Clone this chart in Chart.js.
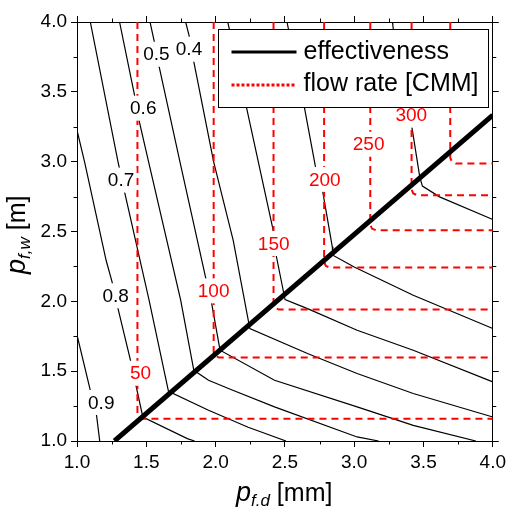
<!DOCTYPE html>
<html><head><meta charset="utf-8">
<script src="https://cdn.jsdelivr.net/npm/chart.js@4/dist/chart.umd.min.js"></script>
<style>html,body{margin:0;padding:0;background:#fff;}canvas{display:block;}</style>
</head><body>
<canvas id="c" width="510" height="512"></canvas>
<script>
// ---------- data ----------
const xTicks = [1.0, 1.5, 2.0, 2.5, 3.0, 3.5, 4.0];
const yTicks = [1.0, 1.5, 2.0, 2.5, 3.0, 3.5, 4.0];
const minorTicks = [1.25, 1.75, 2.25, 2.75, 3.25, 3.75];

// optimum line (thick black)
const diagX = [1.27, 4.0];
const diagY = [1.0, 3.333];

// flow-rate lines [CMM]: vertical part at flowX, horizontal part at flowY
const flowRates = [50, 100, 150, 200, 250, 300, 350];
const flowX = [1.436, 1.986, 2.418, 2.783, 3.116, 3.414, 3.693];
const flowY = [1.160, 1.597, 1.941, 2.242, 2.509, 2.760, 2.987];
const flowLabelX = [1.459, 1.986, 2.419, 2.788, 3.104, 3.412];
const flowLabelY = [1.485, 2.075, 2.414, 2.873, 3.125, 3.333];

// effectiveness contours [x, y]
const eff01 = [[3.276,4.0],[3.283,3.942],[3.414,3.261],[3.473,2.891],[3.492,2.825],[3.616,2.748],[4.0,2.586]];
const eff02 = [[2.515,4.0],[2.640,3.393],[2.723,2.951],[2.771,2.796],[2.842,2.390],[2.846,2.330],[3.000,2.246],[3.426,2.044],[4.0,1.805]];
const eff03 = [[2.088,4.0],[2.222,3.393],[2.413,2.521],[2.437,2.330],[2.501,2.013],[2.663,1.948],[3.021,1.793],[3.426,1.650],[4.0,1.423]];
const eff04 = [[1.784,4.0],[1.808,3.906],[1.843,3.715],[1.986,2.999],[2.127,2.437],[2.247,1.805],[2.663,1.626],[3.021,1.483],[3.426,1.340],[4.0,1.172]];
const eff05 = [[1.527,4.0],[1.558,3.858],[1.593,3.679],[1.748,2.975],[1.927,2.175],[1.972,1.984],[2.032,1.650],[2.425,1.435],[3.021,1.244],[3.426,1.112],[3.878,1.0]];
const eff06 = [[1.307,4.0],[1.415,3.476],[1.450,3.285],[1.522,2.975],[1.748,2.008],[1.843,1.506],[1.949,1.435],[2.106,1.371],[2.425,1.244],[3.021,1.029],[3.176,1.0]];
const eff07 = [[1.096,4.0],[1.296,2.999],[1.343,2.784],[1.520,2.008],[1.660,1.356],[1.949,1.220],[2.235,1.098],[2.508,1.0]];
const eff08 = [[1.0,3.226],[1.057,2.987],[1.210,2.294],[1.253,2.139],[1.296,1.948],[1.386,1.578],[1.475,1.172],[1.796,1.017],[1.848,1.0]];
const eff09 = [[1.0,1.76],[1.093,1.375],[1.141,1.184],[1.164,1.0]];
const effLines = [eff01, eff02, eff03, eff04, eff05, eff06, eff07, eff08, eff09];

const effLabels = ['0.4','0.5','0.6','0.7','0.8','0.9'];
const effLabelX = [1.808, 1.573, 1.478, 1.318, 1.279, 1.175];
const effLabelY = [3.805, 3.769, 3.383, 2.868, 2.040, 1.276];

const legendLabels = ['effectiveness', 'flow rate [CMM]'];

// ---------- chart ----------
const FONT = "'Liberation Sans', Arial, Helvetica, sans-serif";
const RED = '#ff0000';

const datasets = [];
datasets.push({
  label: legendLabels[0],
  data: diagX.map((x, i) => ({x, y: diagY[i]})),
  borderColor: '#000', borderWidth: 5, pointRadius: 0, showLine: true, fill: false
});
const corner = 0.04;
flowX.forEach((xv, i) => {
  const yh = flowY[i];
  datasets.push({
    label: i === 0 ? legendLabels[1] : String(flowRates[i]),
    data: [{x: xv, y: 4.0}, {x: xv, y: yh + corner}, {x: xv + 0.012, y: yh + 0.012},
           {x: xv + corner, y: yh}, {x: 4.0, y: yh}],
    borderColor: RED, borderWidth: 2, borderDash: [7, 5], pointRadius: 0, showLine: true, fill: false
  });
});
effLines.forEach((pts, i) => {
  datasets.push({
    label: 'eff ' + (i + 1) / 10,
    data: pts.map(p => ({x: p[0], y: p[1]})),
    borderColor: '#000', borderWidth: 1.2, pointRadius: 0, showLine: true, fill: false
  });
});

const labelPlugin = {
  id: 'labels',
  afterDatasetsDraw(chart) {
    const {ctx, scales: {x, y}} = chart;
    ctx.save();
    ctx.font = '19px ' + FONT;
    ctx.textAlign = 'center';
    ctx.textBaseline = 'middle';
    const draw = (txt, vx, vy, col) => {
      const px = x.getPixelForValue(vx), py = y.getPixelForValue(vy);
      const w = ctx.measureText(txt).width;
      ctx.fillStyle = '#fff';
      ctx.fillRect(px - w / 2 - 2, py - 12.5, w + 4, 25);
      ctx.fillStyle = col;
      ctx.fillText(txt, px, py + 1);
    };
    effLabels.forEach((t, i) => draw(t, effLabelX[i], effLabelY[i], '#000'));
    flowLabelX.forEach((vx, i) => draw(String(flowRates[i]), vx, flowLabelY[i], RED));
    ctx.restore();
  },
  afterDraw(chart) {
    const {ctx, chartArea: a, scales: {x, y}} = chart;
    ctx.save();
    // minor ticks
    ctx.strokeStyle = '#000'; ctx.lineWidth = 1;
    ctx.beginPath();
    minorTicks.forEach(v => {
      const px = Math.round(x.getPixelForValue(v)) + 0.5;
      ctx.moveTo(px, a.bottom); ctx.lineTo(px, a.bottom + 3.5);
      ctx.moveTo(px, a.top); ctx.lineTo(px, a.top - 3.5);
      const py = Math.round(y.getPixelForValue(v)) + 0.5;
      ctx.moveTo(a.left, py); ctx.lineTo(a.left - 3.5, py);
      ctx.moveTo(a.right, py); ctx.lineTo(a.right + 3.5, py);
    });
    ctx.stroke();

    // legend
    const L = 218.5, T = 29.5, W = 270, H = 78;
    ctx.fillStyle = '#fff'; ctx.fillRect(L, T, W, H);
    ctx.strokeStyle = '#000'; ctx.lineWidth = 1; ctx.strokeRect(L, T, W, H);
    ctx.lineWidth = 3;
    ctx.beginPath(); ctx.moveTo(L + 13, 52); ctx.lineTo(L + 78, 52); ctx.stroke();
    ctx.strokeStyle = RED; ctx.setLineDash([3, 2]);
    ctx.beginPath(); ctx.moveTo(L + 13, 85); ctx.lineTo(L + 78, 85); ctx.stroke();
    ctx.setLineDash([]);
    ctx.fillStyle = '#000'; ctx.font = '25px ' + FONT;
    ctx.textAlign = 'left'; ctx.textBaseline = 'alphabetic';
    ctx.fillText(legendLabels[0], L + 85, 58.5);
    ctx.fillText(legendLabels[1], L + 85, 91);

    // axis titles
    const title = (sub, unit) => {
      ctx.font = 'italic 27px ' + FONT;
      ctx.fillText('p', 0, 0);
      let off = ctx.measureText('p').width;
      ctx.font = 'italic 17px ' + FONT;
      ctx.fillText(sub, off, 5);
      off += ctx.measureText(sub).width;
      ctx.font = '25px ' + FONT;
      ctx.fillText(' ' + unit, off, 0);
    };
    ctx.fillStyle = '#000';
    ctx.save(); ctx.translate(236, 501); title('f.d', '[mm]'); ctx.restore();
    ctx.save(); ctx.translate(25, 274); ctx.rotate(-Math.PI / 2); title('f,w', '[m]'); ctx.restore();
    ctx.restore();
  }
};

const axisCommon = (pos, withLabels, list) => ({
  type: 'linear', position: pos, min: 1, max: 4,
  afterBuildTicks: s => { s.ticks = list.map(v => ({value: v})); },
  ticks: {
    display: withLabels, color: '#000', padding: 4,
    font: {family: FONT, size: 19},
    callback: v => Number(v).toFixed(1), maxRotation: 0, autoSkip: false
  },
  grid: {display: true, drawOnChartArea: false, drawTicks: true, tickLength: 6, color: '#000', tickColor: '#000', tickWidth: 1},
  border: {display: true, color: '#000', width: 1}
});

const sx = axisCommon('bottom', true, xTicks); sx.afterFit = s => { s.height = 71; };
const sx2 = axisCommon('top', false, xTicks); sx2.afterFit = s => { s.height = 22; };
const sy = axisCommon('left', true, yTicks); sy.afterFit = s => { s.width = 77; };
const sy2 = axisCommon('right', false, yTicks); sy2.afterFit = s => { s.width = 13; };

new Chart(document.getElementById('c'), {
  type: 'scatter',
  data: {datasets},
  options: {
    responsive: false, animation: false, devicePixelRatio: 1,
    layout: {padding: 0},
    plugins: {legend: {display: false}, tooltip: {enabled: false}},
    scales: {x: sx, x2: sx2, y: sy, y2: sy2}
  },
  plugins: [labelPlugin]
});
</script>
</body></html>
